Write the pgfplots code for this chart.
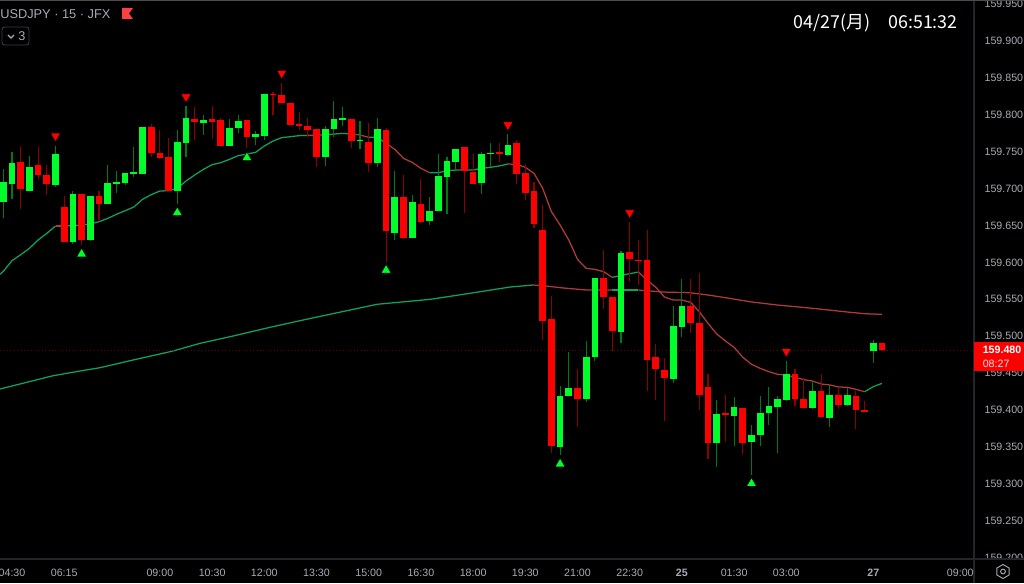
\documentclass[border=0pt]{standalone}
\usepackage{pgfplots}
\usepackage{pgfplotstable}
\usepackage{fontspec}
\pgfplotsset{compat=1.18}
\setmainfont{Liberation Sans}
\newfontfamily\cjk{Noto Sans CJK JP}
\definecolor{upc}{HTML}{00FF2A}
\definecolor{dnc}{HTML}{FF0000}
\definecolor{upw}{HTML}{007A14}
\definecolor{dnw}{HTML}{8C0000}
\definecolor{emag}{HTML}{12A060}
\definecolor{emar}{HTML}{B03A3A}
\definecolor{axc}{HTML}{23252C}
\definecolor{boxc}{HTML}{3A3D46}
\definecolor{tickc}{HTML}{A8ABB4}

% i open high low close
\pgfplotstableread{
i o h l c
0 159.681 159.725 159.659 159.707
1 159.705 159.748 159.685 159.733
3 159.696 159.743 159.696 159.728
6 159.704 159.756 159.701 159.746
8 159.626 159.696 159.623 159.691
10 159.629 159.689 159.627 159.689
12 159.678 159.730 159.678 159.706
13 159.705 159.722 159.693 159.707
14 159.706 159.720 159.704 159.720
15 159.719 159.755 159.714 159.721
16 159.719 159.782 159.718 159.782
20 159.695 159.778 159.678 159.762
21 159.760 159.811 159.742 159.794
23 159.788 159.799 159.771 159.791
26 159.757 159.793 159.756 159.781
27 159.781 159.798 159.774 159.790
29 159.768 159.777 159.758 159.772
30 159.770 159.827 159.765 159.827
37 159.741 159.784 159.729 159.779
38 159.779 159.817 159.768 159.793
39 159.791 159.809 159.783 159.794
41 159.763 159.790 159.752 159.765
43 159.733 159.795 159.728 159.779
45 159.639 159.722 159.629 159.687
47 159.632 159.690 159.632 159.680
49 159.655 159.687 159.650 159.668
50 159.668 159.745 159.668 159.716
51 159.714 159.741 159.664 159.736
52 159.735 159.753 159.722 159.753
55 159.706 159.748 159.692 159.745
56 159.745 159.761 159.728 159.747
58 159.744 159.772 159.743 159.758
64 159.348 159.431 159.338 159.418
65 159.418 159.477 159.418 159.428
67 159.414 159.492 159.410 159.470
68 159.471 159.578 159.465 159.578
71 159.505 159.614 159.489 159.611
77 159.441 159.539 159.435 159.512
78 159.511 159.576 159.497 159.540
82 159.354 159.412 159.321 159.393
84 159.391 159.416 159.350 159.403
86 159.355 159.378 159.311 159.365
87 159.365 159.418 159.350 159.394
88 159.394 159.430 159.378 159.404
89 159.403 159.418 159.341 159.413
90 159.412 159.465 159.411 159.447
93 159.402 159.438 159.400 159.425
95 159.388 159.433 159.376 159.419
97 159.405 159.429 159.404 159.419
100 159.479 159.494 159.462 159.489
}\upbars

\pgfplotstableread{
i o h l c
2 159.735 159.756 159.671 159.698
4 159.730 159.755 159.711 159.717
5 159.717 159.730 159.690 159.705
7 159.674 159.689 159.626 159.626
9 159.691 159.691 159.622 159.629
11 159.689 159.695 159.656 159.678
17 159.782 159.786 159.741 159.747
18 159.747 159.778 159.739 159.740
19 159.741 159.767 159.695 159.695
22 159.793 159.809 159.764 159.789
24 159.793 159.810 159.766 159.789
25 159.791 159.795 159.756 159.756
28 159.791 159.791 159.753 159.768
31 159.827 159.830 159.798 159.825
32 159.826 159.842 159.815 159.815
33 159.815 159.816 159.785 159.785
34 159.786 159.802 159.778 159.784
35 159.783 159.794 159.768 159.778
36 159.779 159.779 159.728 159.741
40 159.793 159.793 159.753 159.763
42 159.762 159.788 159.721 159.733
44 159.778 159.781 159.599 159.641
46 159.687 159.717 159.630 159.632
48 159.678 159.712 159.652 159.654
53 159.755 159.755 159.666 159.722
54 159.721 159.746 159.705 159.705
57 159.748 159.761 159.735 159.745
59 159.760 159.765 159.705 159.718
60 159.720 159.732 159.683 159.693
61 159.695 159.708 159.645 159.651
62 159.643 159.676 159.493 159.519
63 159.522 159.553 159.341 159.350
66 159.429 159.454 159.376 159.414
69 159.578 159.616 159.536 159.552
70 159.552 159.552 159.479 159.506
72 159.613 159.653 159.572 159.603
73 159.602 159.629 159.568 159.600
74 159.602 159.643 159.424 159.467
75 159.470 159.488 159.412 159.454
76 159.453 159.469 159.384 159.442
79 159.540 159.576 159.503 159.516
80 159.516 159.584 159.399 159.419
81 159.430 159.448 159.332 159.354
83 159.394 159.419 159.355 159.392
85 159.402 159.402 159.339 159.354
91 159.447 159.454 159.404 159.413
92 159.414 159.442 159.402 159.402
94 159.424 159.448 159.389 159.389
96 159.419 159.429 159.400 159.405
98 159.418 159.424 159.373 159.399
99 159.3985 159.411 159.3965 159.3965
101 159.489 159.489 159.478 159.480
}\dnbars

% short average
\pgfplotstableread{
i p
-0.38 159.5825
0 159.5865
1 159.601
2 159.6091
3 159.6177
4 159.629
5 159.638
6 159.648
7 159.648
8 159.6484
9 159.6493
10 159.6507
11 159.6538
12 159.6583
13 159.6638
14 159.6687
15 159.6737
16 159.6841
17 159.6904
18 159.6954
19 159.6958
20 159.699
21 159.7089
22 159.7171
23 159.7247
24 159.7311
25 159.7338
26 159.7383
27 159.7433
28 159.7455
29 159.7478
30 159.7564
31 159.7631
32 159.7677
33 159.769
34 159.7704
35 159.7708
36 159.7713
37 159.7713
38 159.7726
39 159.7735
40 159.7726
41 159.7713
42 159.7681
43 159.7681
44 159.76
45 159.7518
46 159.7396
47 159.7342
48 159.7261
49 159.7202
50 159.7202
51 159.7229
52 159.7238
53 159.7238
54 159.7238
55 159.7261
56 159.7275
57 159.7293
58 159.732
59 159.7315
60 159.7275
61 159.7193
62 159.699
63 159.6674
64 159.6493
65 159.629
66 159.6028
67 159.5906
68 159.5892
69 159.5861
70 159.5784
71 159.5811
72 159.5834
73 159.5856
74 159.5748
75 159.5649
76 159.5518
77 159.5477
78 159.5477
79 159.5445
80 159.5319
81 159.5161
82 159.5017
83 159.4922
84 159.4836
85 159.4701
86 159.4606
87 159.4551
88 159.4506
89 159.447
90 159.4461
91 159.443
92 159.4398
93 159.438
94 159.4339
95 159.4326
96 159.4299
97 159.4294
98 159.4267
99 159.4235
100 159.4303
101 159.4348
}\emashort

% long average
\pgfplotstableread{
i p
-0.38 159.4271
5.71 159.4451
8.82 159.4515
11.11 159.456
14.91 159.4664
19.51 159.4786
22.61 159.489
26.4 159.4989
30.65 159.5107
34.45 159.5206
42.95 159.5419
49.05 159.5486
53.64 159.5568
58.24 159.5653
60.88 159.568
62.03 159.5671
64.37 159.564
67.06 159.5612
70 159.5612
73 159.5612
75.86 159.5585
78.93 159.5576
81 159.5545
82.7 159.5514
86.05 159.545
89 159.5409
93 159.5365
97.06 159.5314
99.05 159.5291
101 159.5283
}\emalong

\newcommand\emaseg[4]{\addplot[#1,line width=0.95pt,line join=round,restrict x to domain=#3:#4,forget plot] table[x=i,y=p]{#2};}

\begin{document}
\begin{tikzpicture}
\fill[black,use as bounding box] (0pt,0pt) rectangle (768pt,437.25pt);
\begin{axis}[
    at={(0pt,18pt)},
    anchor=south west,
    scale only axis,
    width=730.5pt,
    height=419.25pt,
    xmin=-0.3793, xmax=111.575,
    ymin=159.1968, ymax=159.9542,
    axis line style={draw=none},
    major tick length=0pt,
    ytick={159.2,159.25,159.3,159.35,159.4,159.45,159.5,159.55,159.6,159.65,159.7,159.75,159.8,159.85,159.9,159.95},
    yticklabel pos=right,
    yticklabel style={
        /pgf/number format/fixed,
        /pgf/number format/fixed zerofill,
        /pgf/number format/precision=3,
        /pgf/number format/1000 sep={},
        /pgf/number format/assume math mode=true,
        font=\fontsize{8}{9}\selectfont, text=tickc, anchor=west, xshift=4.4pt, yshift=-0.7pt},
    xtick={1,7,18,24,30,36,42,48,54,60,66,72,78,84,90,100,110},
    xticklabels={04:30,06:15,09:00,10:30,12:00,13:30,15:00,16:30,18:00,19:30,21:00,22:30,\textbf{25},01:30,03:00,\textbf{27},09:00},
    xticklabel style={font=\fontsize{8}{9}\selectfont, text=tickc, anchor=center, yshift=-10pt},
]
% averages under the candles
\emaseg{emag}{\emalong}{-1}{60.88}
\emaseg{emar}{\emalong}{60.88}{70}
\emaseg{emag}{\emalong}{70}{73}
\emaseg{emar}{\emalong}{73}{102}
\emaseg{emag}{\emashort}{-1}{6}
\emaseg{emar}{\emashort}{6}{7}
\emaseg{emag}{\emashort}{7}{35}
\emaseg{emar}{\emashort}{35}{37}
\emaseg{emag}{\emashort}{37}{40}
\emaseg{emar}{\emashort}{40}{42}
\emaseg{emag}{\emashort}{42}{44}
\emaseg{emar}{\emashort}{44}{49}
\emaseg{emag}{\emashort}{49}{58}
\emaseg{emar}{\emashort}{58}{70}
\emaseg{emag}{\emashort}{70}{73}
\emaseg{emar}{\emashort}{73}{99}
\emaseg{emag}{\emashort}{99}{101}

% last price line
\addplot[color=dnw!75!black,line width=0.6pt,dotted,forget plot] coordinates {(-0.38,159.48) (111.57,159.48)};

% wicks
\addplot[upw,line width=0.8pt,forget plot,quiver={u=0,v=\thisrow{h}-\thisrow{l}}]
    table[x=i,y=l]{\upbars};
\addplot[dnw,line width=0.8pt,forget plot,quiver={u=0,v=\thisrow{h}-\thisrow{l}}]
    table[x=i,y=l]{\dnbars};
% bodies
\addplot[upc,line width=5pt,forget plot,quiver={u=0,v=\thisrow{c}-\thisrow{o}}]
    table[x=i,y=o]{\upbars};
\addplot[dnc,line width=5pt,forget plot,quiver={u=0,v=\thisrow{o}-\thisrow{c}}]
    table[x=i,y=c]{\dnbars};

% fractal markers
\addplot[only marks,mark=triangle*,mark size=4.4pt,mark options={fill=upc,draw=none}] coordinates {
    (9,159.610) (20,159.666) (28,159.7405) (44,159.588) (64,159.3255) (86,159.299)};
\addplot[only marks,mark=triangle*,mark size=4.4pt,mark options={fill=dnc,draw=none,rotate=180}] coordinates {
    (6,159.770) (21,159.823) (32,159.855) (58,159.785) (72,159.666) (90,159.478)};
\end{axis}

\begin{scope}[x=0.75pt,y=0.75pt]
% axis frame, bottom right corner
\fill[black] (975,0) rectangle (1024,23);
\draw[axc,line width=0.9pt] (0,24) -- (1024,24);
\draw[axc,line width=0.9pt] (974,0) -- (974,583);
\draw[color=black!70,line width=0.9pt] (0,582.6) -- (1024,582.6);

% gear
\draw[tickc,line width=0.7pt] (1003,18.5) -- ++(-30:7) -- ++(-90:7) -- ++(-150:7) -- ++(150:7) -- ++(90:7) -- cycle;
\draw[tickc,line width=0.7pt] (1003,11.5) circle (2.4);

% price tag
\fill[dnc] (974,212) rectangle (1024,241);
\node[anchor=west,inner sep=0pt,text=white,font=\fontsize{8}{9}\selectfont\bfseries] at (982.5,233) {159.480};
\node[anchor=west,inner sep=0pt,text=white!88!red,font=\fontsize{8}{9}\selectfont] at (982.5,219.5) {08:27};

% header
\node[anchor=west,inner sep=0pt,text=tickc,font=\fontsize{9.6}{11}\selectfont] at (0,569) {USDJPY · 15 · JFX};
\fill[color=red!75!white] (122,575) -- (133,575) -- (129,569.5) -- (133,564) -- (122,564) -- cycle;
\draw[boxc,line width=0.7pt,rounded corners=2pt] (2,556) rectangle (29,538);
\draw[tickc,line width=0.8pt] (8,548) -- (11,545) -- (14,548);
\node[anchor=center,inner sep=0pt,text=tickc,font=\fontsize{9.5}{11}\selectfont] at (22,546.5) {3};
\node[anchor=east,inner sep=0pt,text=white,font=\cjk\fontsize{13.4}{15}\selectfont] at (958,560) {04/27(月)\hspace{1em}06:51:32};
\end{scope}
\end{tikzpicture}
\end{document}
